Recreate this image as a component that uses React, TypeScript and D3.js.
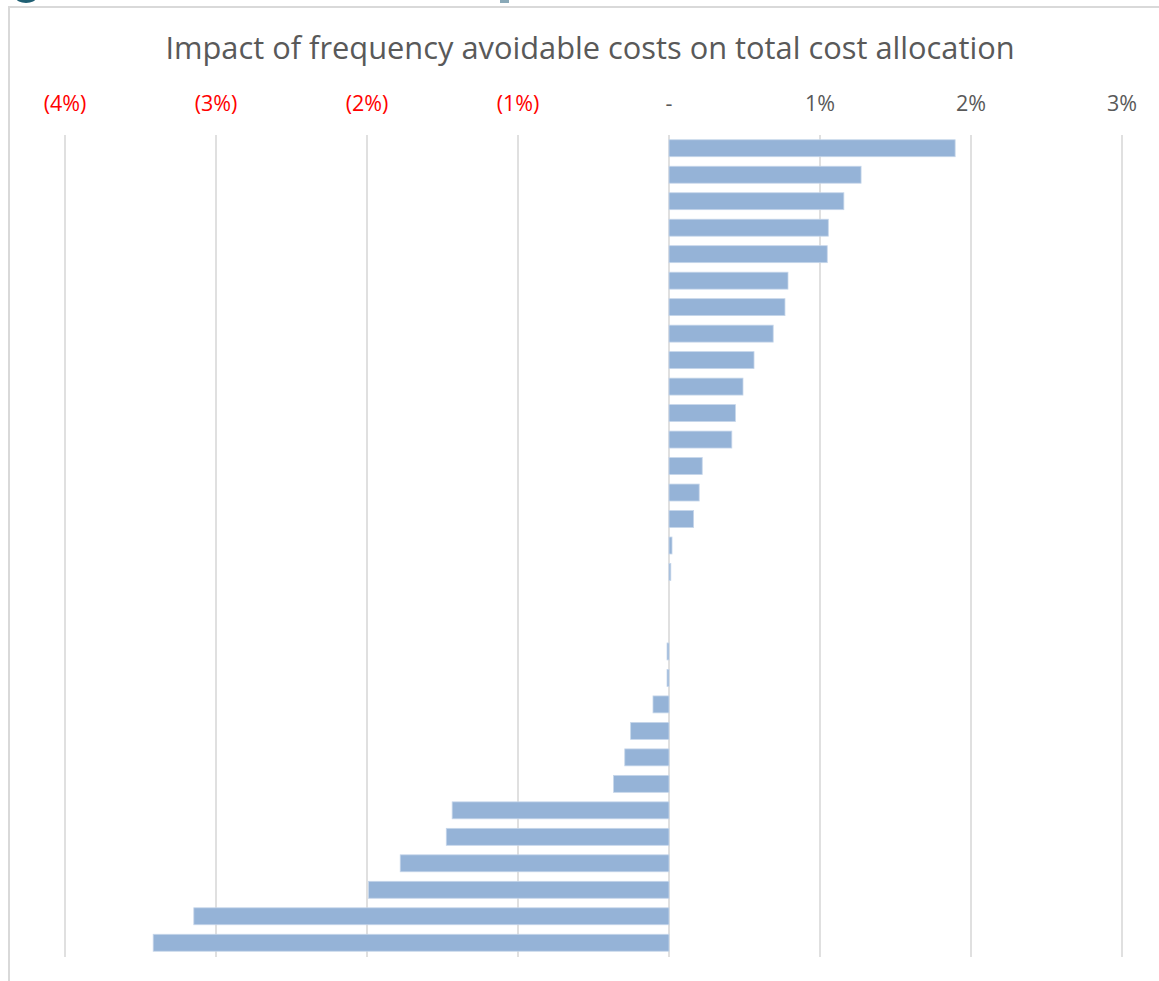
import React from "react";
import * as d3 from "d3";

const W = 1159;
const H = 981;

const categories: string[] = Array.from({ length: 31 }, (_, i) => `Item ${i + 1}`);
const values: number[] = [
  0.01895, 0.01272, 0.01158, 0.01055, 0.01048, 0.00788, 0.00768, 0.0069,
  0.00563, 0.0049, 0.0044, 0.00416, 0.0022, 0.002, 0.00163, 0.0002,
  0.00012, 0, 0, -0.00013, -0.00013, -0.00106, -0.00254, -0.00293,
  -0.00367, -0.01436, -0.01475, -0.0178, -0.0199, -0.03147, -0.03416,
];
const tickValues: number[] = [-0.04, -0.03, -0.02, -0.01, 0, 0.01, 0.02, 0.03];
const tickLabels: string[] = ["(4%)", "(3%)", "(2%)", "(1%)", "-", "1%", "2%", "3%"];
const title = "Impact of frequency avoidable costs on total cost allocation";

export default function App() {
  const x = d3.scaleLinear().domain([-0.04, 0.03]).range([65, 1122]);
  const y = d3
    .scaleBand<string>()
    .domain(categories)
    .range([135, 956])
    .paddingInner(0.36)
    .paddingOuter(0.18);

  return (
    <svg
      width={W}
      height={H}
      style={{ position: "absolute", left: 0, top: 0, background: "#fff" }}
      fontFamily="'Open Sans', 'Liberation Sans', sans-serif"
    >
      {/* cropped decorations at top edge */}
      <ellipse cx={26} cy={-2} rx={10} ry={5} fill="#1f5f73" />
      <rect x={500} y={0} width={9} height={3} fill="#8aa9b8" />
      {/* chart frame */}
      <rect x={9} y={7} width={W + 20} height={H + 20} fill="#fff" stroke="#d9d9d9" strokeWidth={2} />
      <text x={590} y={59} textAnchor="middle" fontSize={30.8} fill="#595959">
        {title}
      </text>
      {tickValues.map((t, i) => (
        <g key={i}>
          <line x1={x(t)} x2={x(t)} y1={135} y2={957} stroke="#d9d9d9" strokeWidth={1.6} />
          <text
            x={x(t)}
            y={111}
            textAnchor="middle"
            fontSize={21.5}
            fill={t < 0 ? "#ff0000" : "#595959"}
          >
            {tickLabels[i]}
          </text>
        </g>
      ))}
      {values.map((v, i) => {
        const x0 = x(Math.min(0, v));
        const x1 = x(Math.max(0, v));
        if (v === 0) return null;
        return (
          <rect
            key={i}
            x={x0}
            y={y(categories[i])}
            width={Math.max(x1 - x0, 1)}
            height={y.bandwidth()}
            fill="#95B3D7"
            stroke="#c6d6ea"
            strokeWidth={0.8}
          />
        );
      })}
    </svg>
  );
}
